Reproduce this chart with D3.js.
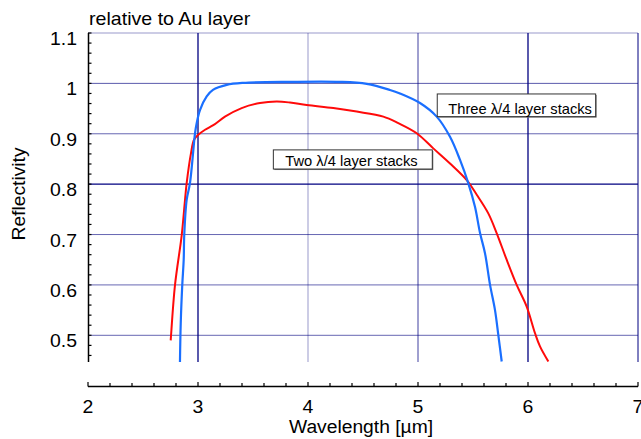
<!DOCTYPE html>
<html><head><meta charset="utf-8">
<script src="https://cdn.jsdelivr.net/npm/d3@7"></script>
<style>body{margin:0;background:#fff}svg{display:block}text{font-family:"Liberation Sans",Arial,sans-serif;fill:#000}</style>
</head><body>
<script>
// ---- data ----
const threeX = [2.836,2.843,2.857,2.870,2.875,2.897,2.927,2.973,2.988,3.018,3.079,3.136,3.261,3.412,3.836,4.291,4.534,4.745,4.836,5.018,5.170,5.291,5.382,5.457,5.518,5.564,5.609,5.655,5.700,5.730,5.761];
const threeY = [0.447,0.524,0.600,0.650,0.699,0.769,0.802,0.901,0.921,0.947,0.974,0.987,0.997,1.001,1.003,1.003,0.999,0.987,0.980,0.961,0.934,0.894,0.848,0.802,0.755,0.703,0.663,0.600,0.550,0.501,0.448];
const twoX = [2.752,2.755,2.791,2.852,2.882,2.897,2.936,2.964,3.003,3.064,3.139,3.245,3.397,3.564,3.715,3.836,3.988,4.230,4.443,4.685,4.821,4.988,5.139,5.291,5.443,5.534,5.639,5.715,5.806,5.897,5.988,6.064,6.109,6.185];
const twoY = [0.490,0.500,0.600,0.699,0.769,0.802,0.861,0.888,0.898,0.908,0.917,0.934,0.951,0.961,0.964,0.962,0.957,0.951,0.944,0.934,0.921,0.901,0.871,0.841,0.808,0.779,0.742,0.703,0.650,0.600,0.557,0.504,0.478,0.448];
const xTicks = [2,3,4,5,6,7];
const yTicks = [0.5,0.6,0.7,0.8,0.9,1.0,1.1];
const yTickLabels = ["0.5","0.6","0.7","0.8","0.9","1","1.1"];
const xGrid = [3,4,5,6,7];
const labelThree = "Three \u03BB/4 layer stacks";
const labelTwo = "Two \u03BB/4 layer stacks";
const boxThree = {x0:5.175,x1:6.615,y0:0.979,y1:0.934};
const boxTwo = {x0:3.685,x1:5.13,y0:0.868,y1:0.830};

// ---- layout ----
const W=641,H=439;
const svg=d3.select("body").append("svg").attr("width",W).attr("height",H);
const x=d3.scaleLinear().domain([2,7]).range([88,638]);
const y=d3.scaleLinear().domain([1.1,0.447]).range([33,362]);
const yBottom=362, xAxisY=386.5;

function txt(g,str,px,py,size,anchor,sx,rot){
  return g.append("text").text(str).attr("font-size",size)
    .attr("text-anchor",anchor||"start")
    .attr("transform",`translate(${px},${py})`+(rot?` rotate(${rot})`:"")+` scale(${sx},1)`);
}

// grid
const hOp={0.5:0.6,0.6:0.6,0.7:0.6,0.8:1,0.9:0.6,1.0:0.65,1.1:0.4};
svg.append("g").selectAll("line").data(yTicks).join("line")
  .attr("x1",x(2)).attr("x2",x(7)).attr("y1",d=>y(d)).attr("y2",d=>y(d))
  .attr("stroke","#000080").attr("stroke-width",d=>d===0.8?1.3:1).attr("stroke-opacity",d=>hOp[d]);
const vOp={3:1,4:0.4,5:0.75,6:1,7:1};
svg.append("g").selectAll("line").data(xGrid).join("line")
  .attr("x1",d=>x(d)).attr("x2",d=>x(d)).attr("y1",y(1.1)).attr("y2",yBottom)
  .attr("stroke","#000080").attr("stroke-width",d=>(d===3||d===6)?1.3:1).attr("stroke-opacity",d=>vOp[d]);

// curves
svg.append("clipPath").attr("id","pc").append("rect")
  .attr("x",x(2)).attr("y",y(1.1)).attr("width",x(7)-x(2)).attr("height",yBottom-y(1.1));
const line=d3.line().x(d=>x(d[0])).y(d=>y(d[1])).curve(d3.curveCatmullRom.alpha(0.5));
const gC=svg.append("g").attr("clip-path","url(#pc)");
gC.append("path").datum(d3.zip(twoX,twoY)).attr("d",line).attr("fill","none").attr("stroke","#ff0a0a").attr("stroke-width",2);
gC.append("path").datum(d3.zip(threeX,threeY)).attr("d",line).attr("fill","none").attr("stroke","#1a6fff").attr("stroke-width",2.2);

// y axis
const ya=svg.append("g");
ya.append("line").attr("x1",88.5).attr("x2",88.5).attr("y1",y(1.1)).attr("y2",yBottom).attr("stroke","#000").attr("stroke-width",1.5);
const yMinor=d3.range(0,33).map(i=>+(1.1-i*0.02).toFixed(2)).filter(v=>v>=0.447);
ya.selectAll("line.m").data(yMinor).join("line").attr("class","m")
  .attr("x1",88).attr("x2",91.5).attr("y1",d=>y(d)).attr("y2",d=>y(d)).attr("stroke","#000").attr("stroke-width",1.2);
yTicks.forEach((v,i)=>txt(ya,yTickLabels[i],77,y(v)+12,18,"end",1.08));

// x axis
const xa=svg.append("g");
xa.append("line").attr("x1",x(2)).attr("x2",x(7)).attr("y1",xAxisY).attr("y2",xAxisY).attr("stroke","#000").attr("stroke-width",1.5);
const xMinor=d3.range(0,26).map(i=>+(2+i*0.2).toFixed(1));
xa.selectAll("line.m").data(xMinor).join("line").attr("class","m")
  .attr("x1",d=>x(d)).attr("x2",d=>x(d)).attr("y1",xAxisY).attr("y2",d=>Number.isInteger(d)?xAxisY-4.5:xAxisY-3.5)
  .attr("stroke","#000").attr("stroke-width",1.2);
xTicks.forEach(v=>txt(xa,String(v),x(v),412.5,18,"middle",1.08));

// titles
txt(svg,"relative to Au layer",89,24.5,18,"start",1.09);
txt(svg,"Wavelength [\u00B5m]",361,432.5,18,"middle",1.07);
txt(svg,"Reflectivity",25,194,18,"middle",1.07,-90);

// annotation boxes
function box(b,label,pad){
  const g=svg.append("g");
  const x0=x(b.x0),x1=x(b.x1),y0=y(b.y0),y1=y(b.y1);
  g.append("rect").attr("x",x0+1).attr("y",y0+1).attr("width",x1-x0).attr("height",y1-y0).attr("fill","#777");
  g.append("rect").attr("x",x0).attr("y",y0).attr("width",x1-x0).attr("height",y1-y0).attr("fill","#fff").attr("stroke","#333").attr("stroke-width",1);
  txt(g,label,x0+pad,y1-3,14,"start",1.05);
}
box(boxThree,labelThree,11);
box(boxTwo,labelTwo,12);
</script>
</body></html>
